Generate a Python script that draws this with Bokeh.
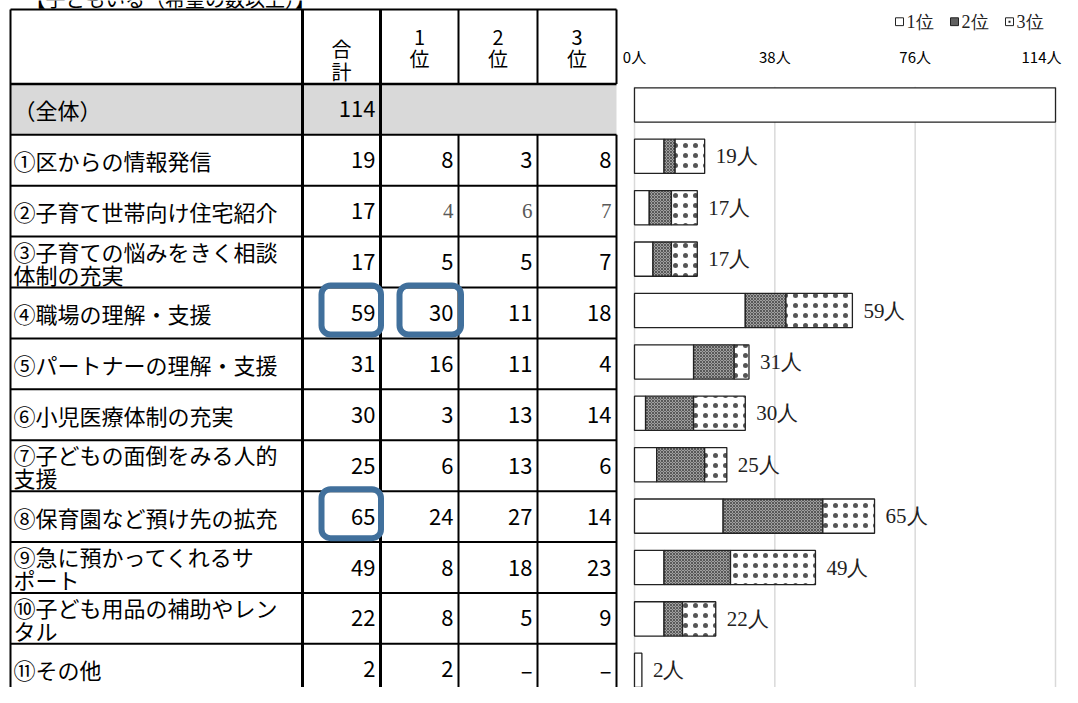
from bokeh.plotting import figure
from bokeh.models import Range1d
from bokeh.core.properties import value
from bokeh.embed import file_html
from bokeh.resources import INLINE

# ---------------- data ----------------
title = "【子どもいる（希望の数以上）】"
overall_label = "（全体）"
overall_total = 114
items = [
    "①区からの情報発信",
    "②子育て世帯向け住宅紹介",
    "③子育ての悩みをきく相談\n体制の充実",
    "④職場の理解・支援",
    "⑤パートナーの理解・支援",
    "⑥小児医療体制の充実",
    "⑦子どもの面倒をみる人的\n支援",
    "⑧保育園など預け先の拡充",
    "⑨急に預かってくれるサ\nポート",
    "⑩子ども用品の補助やレン\nタル",
    "⑪その他",
]
totals = [19, 17, 17, 59, 31, 30, 25, 65, 49, 22, 2]
rank1 = [8, 4, 5, 30, 16, 3, 6, 24, 8, 8, 2]
rank2 = [3, 6, 5, 11, 11, 13, 13, 27, 18, 5, 0]
rank3 = [8, 7, 7, 18, 4, 14, 6, 14, 23, 9, 0]
col_headers = ["合\n計", "1\n位", "2\n位", "3\n位"]
axis_ticks = [0, 38, 76, 114]
axis_unit = "人"
legend_labels = ["1位", "2位", "3位"]
highlight_cells = [(4, 0), (4, 1), (8, 0)]   # (item number, column)

# ---------------- layout / style ----------------
W, H = 1062, 687
Y0, S = 8, 0.979
def fx(x): return x
def fy(y): return Y0 + (y - Y0) * S

SANS = "Noto Sans CJK JP"
SERIF = "Liberation Serif"
SERIF_ROW = 2          # row drawn in grey serif digits in the original

tbl_left = 10
col_edges = [302, 380, 458, 537, 616]
hdr_top, hdr_bot, row_h = 9, 85, 52
zero_x, full_x = 634, 1055
bar_c0, bar_pitch, bar_h = 106.5, 52.5, 35

px_per = (full_x - zero_x) / axis_ticks[-1]
n_range = Range1d(-fx(zero_x) / px_per, (W - fx(zero_x)) / px_per)
pitch_px = bar_pitch * S
r_range = Range1d((H - fy(bar_c0)) / pitch_px, -fy(bar_c0) / pitch_px)

p = figure(width=W, height=H, x_range=Range1d(0, W), y_range=Range1d(H, 0),
           output_backend="svg", toolbar_location=None, min_border=0,
           x_axis_location=None, y_axis_location=None)
p.grid.visible = False
p.outline_line_color = None
p.background_fill_color = "white"
p.extra_x_ranges = {"n": n_range}
p.extra_y_ranges = {"r": r_range}

n_rows = len(items) + 1
row_top = [hdr_bot + row_h * i for i in range(n_rows)]
row_ctr = [fy(t + row_h / 2) for t in row_top]

# partially visible title above the table
p.text(x=[fx(25)], y=[fy(-2)], text=[title], text_font=value(SANS), text_font_size="20px",
       text_align="left", text_baseline="middle", text_color="black")

# grey "overall" row
p.quad(left=fx(tbl_left), right=fx(col_edges[-1]), top=fy(hdr_bot), bottom=fy(hdr_bot + row_h),
       fill_color="#d9d9d9", line_color=None)

# chart gridlines
p.segment(x0=axis_ticks, x1=axis_ticks, y0=[fy(88)] * 4, y1=[H] * 4,
          x_range_name="n", line_color="#d9d9d9", line_width=1.5)

# table lines
hx0, hx1 = fx(tbl_left), fx(col_edges[-1])
p.segment(x0=[hx0], x1=[hx1], y0=[fy(hdr_top)], y1=[fy(hdr_top)], line_color="black", line_width=2)
p.segment(x0=[hx0], x1=[hx1], y0=[fy(hdr_bot)], y1=[fy(hdr_bot)], line_color="black", line_width=2.5)
ys = [fy(hdr_bot + row_h * k) for k in range(1, n_rows + 1)]
p.segment(x0=[hx0] * len(ys), x1=[hx1] * len(ys), y0=ys, y1=ys, line_color="black", line_width=2)
# verticals
p.segment(x0=[fx(tbl_left)], x1=[fx(tbl_left)], y0=[fy(hdr_top)], y1=[H], line_color="black", line_width=2)
for xe in col_edges[:2]:
    p.segment(x0=[fx(xe)], x1=[fx(xe)], y0=[fy(hdr_top)], y1=[H], line_color="black", line_width=3)
for xe in col_edges[2:]:
    p.segment(x0=[fx(xe)] * 2, x1=[fx(xe)] * 2, y0=[fy(hdr_top), fy(hdr_bot + row_h)],
              y1=[fy(hdr_bot), H], line_color="black", line_width=2)

# header texts
hdr_x = [fx((col_edges[i] + col_edges[i + 1]) / 2) for i in range(4)]
hdr_y = [fy(60.5), fy(48), fy(48), fy(48)]
p.text(x=hdr_x, y=hdr_y, text=col_headers, text_font=value(SANS), text_font_size="20px",
       text_align="center", text_baseline="middle", text_line_height=0.78, text_color="black")

# row labels
p.text(x=[fx(13)] * n_rows, y=row_ctr, text=[overall_label] + items, text_font=value(SANS),
       text_font_size="22px", text_align="left", text_baseline="middle",
       text_line_height=0.72, text_color="black")

# totals column
num_x = [fx(e - 5) for e in col_edges[1:]]
NUMFONT = dict(text_font=value(SANS), text_font_size="22px")
p.text(x=[num_x[0]] * n_rows, y=row_ctr, text=[str(v) for v in [overall_total] + totals],
       text_align="right", text_baseline="middle", text_color="black", **NUMFONT)

def fmt(v):
    return str(v) if v else "–"

for ci, ranks in enumerate([rank1, rank2, rank3]):
    xs, yv, tx = [], [], []
    sx, sy, st = [], [], []
    for i, v in enumerate(ranks):
        if i + 1 == SERIF_ROW:
            sx.append(num_x[ci + 1]); sy.append(row_ctr[i + 1]); st.append(fmt(v))
        else:
            xs.append(num_x[ci + 1]); yv.append(row_ctr[i + 1]); tx.append(fmt(v))
    p.text(x=xs, y=yv, text=tx, text_align="right", text_baseline="middle",
           text_color="black", **NUMFONT)
    p.text(x=sx, y=sy, text=st, text_font=value(SERIF), text_font_size="21px",
           text_align="right", text_baseline="middle", text_color="#595959")

# axis tick labels
tick_txt = [f"{t}{axis_unit}" for t in axis_ticks]
p.text(x=axis_ticks[:-1], y=[fy(57)] * 3, text=tick_txt[:-1], x_range_name="n",
       text_font=value(SANS), text_font_size="15px", text_align="center",
       text_baseline="middle", text_color="black")
p.text(x=axis_ticks[-1:], y=[fy(57)], text=tick_txt[-1:], x_range_name="n", x_offset=6,
       text_font=value(SANS), text_font_size="15px", text_align="right",
       text_baseline="middle", text_color="black")

# bars
idx = list(range(1, n_rows))
left1 = [0] * len(rank1)
right1 = rank1
left2 = rank1
right2 = [a + b for a, b in zip(rank1, rank2)]
left3 = right2
right3 = [a + b for a, b in zip(right2, rank3)]
hb = bar_h / bar_pitch
p.hbar(y=[0], left=[0], right=[overall_total], height=hb, x_range_name="n", y_range_name="r",
       fill_color="white", line_color="#222222", line_width=1.3)
p.hbar(y=idx, left=left1, right=right1, height=hb, x_range_name="n", y_range_name="r",
       fill_color="white", line_color="#222222", line_width=1.3)
seg2 = [(i, l, r) for i, l, r in zip(idx, left2, right2) if r > l]
p.hbar(y=[s[0] for s in seg2], left=[s[1] for s in seg2], right=[s[2] for s in seg2], height=hb,
       x_range_name="n", y_range_name="r", fill_color="#a0a0a0", hatch_pattern="diagonal_cross",
       hatch_scale=3, hatch_color="#3a3a3a", hatch_weight=0.7,
       line_color="#222222", line_width=1.3)
seg3 = [(i, l, r) for i, l, r in zip(idx, left3, right3) if r > l]
p.hbar(y=[s[0] for s in seg3], left=[s[1] for s in seg3], right=[s[2] for s in seg3], height=hb,
       x_range_name="n", y_range_name="r", fill_color="white", hatch_pattern="dot",
       hatch_scale=10, hatch_color="#555555", hatch_weight=0.5,
       line_color="#222222", line_width=1.3)

# value labels
p.text(x=totals, y=idx, text=[f"{t}{axis_unit}" for t in totals], x_range_name="n",
       y_range_name="r", x_offset=11, text_font=value(SERIF),
       text_font_size="21px", text_align="left", text_baseline="middle", text_color="#222222")

# legend
lg_x0, lg_step, lg_y = 895, 55, 21.5
for k, lab in enumerate(legend_labels):
    x0 = fx(lg_x0 + lg_step * k)
    kw = dict(fill_color="white")
    if k == 1:
        kw = dict(fill_color="#606060")
    p.quad(left=[x0], right=[x0 + 8], top=[fy(lg_y - 4)], bottom=[fy(lg_y + 4)],
           line_color="#222222", line_width=1, **kw)
    if k == 2:
        p.quad(left=[x0 + 3], right=[x0 + 5], top=[fy(lg_y - 1)], bottom=[fy(lg_y + 1)],
               fill_color="#222222", line_color=None)
    p.text(x=[x0 + 11], y=[fy(lg_y)], text=[lab], text_font=value(SERIF), text_font_size="18px",
           text_align="left", text_baseline="middle", text_color="#222222")

# highlight frames
hl, hr, ht, hbm = [], [], [], []
for item, col in highlight_cells:
    cl, cr = col_edges[col], col_edges[col + 1]
    top = hdr_bot + row_h * item
    hl.append(fx(cl + 19)); hr.append(fx(cr + 2 * col + 0.5))
    ht.append(fy(top - 2)); hbm.append(fy(top + row_h - 4))
p.quad(left=hl, right=hr, top=ht, bottom=hbm, fill_alpha=0, line_color="#41709c",
       line_width=6, border_radius=9)

open("out.html", "w").write(file_html(p, INLINE))
